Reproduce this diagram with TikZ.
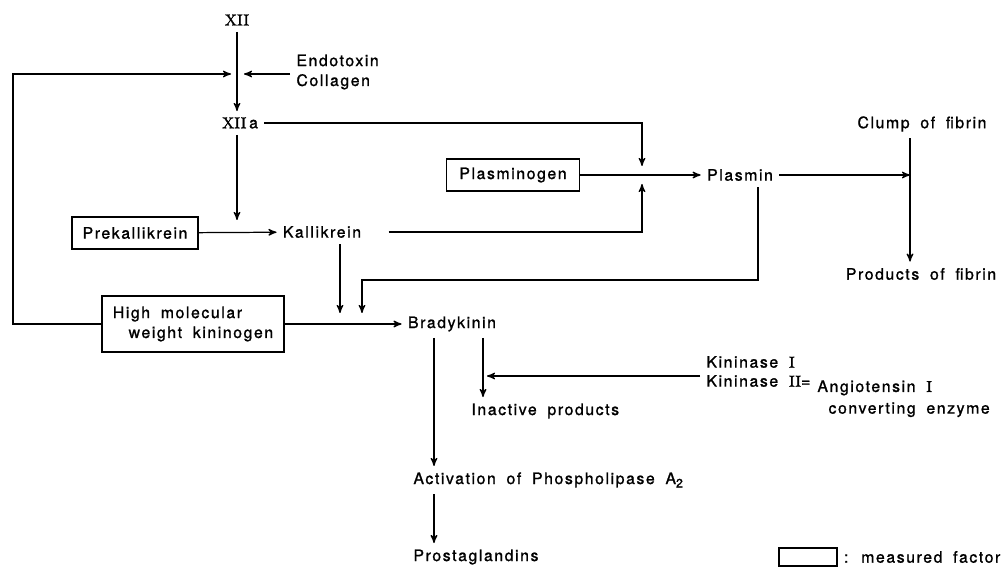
\documentclass[tikz,border=0pt]{standalone}
\usepackage{fontspec}
\setmainfont{TeX Gyre Heros}[LetterSpace=10,WordSpace=1.8,FakeBold=1.2]
\newfontfamily\romfont{Latin Modern Roman}[FakeBold=1.5]
\usetikzlibrary{arrows,positioning,calc}

\begin{document}
\begin{tikzpicture}
  [
  x=0.02cm, y=-0.02cm,
  font=\fontsize{9}{11.3}\selectfont, draw=black, >=stealth', line width=0.7pt,
  factor/.style={rectangle, draw=black, minimum height=6.4mm, inner sep=2pt}
  ]
\useasboundingbox (0,0) rectangle (1007,567);

% factor XII and its activation
\node (xii) at (237,20) {\romfont XII};
\node (xiia) at (240,123) {{\romfont XII}\,a};
\node[anchor=west,align=left] (endo) at (290,72) {Endotoxin\\Collagen};
\coordinate (fb) at (13,74);
\coordinate (jw) at (231,74);
\coordinate (je) at (244,74);
\coordinate (kj) at (237,220);

% kallikrein and plasmin
\node[factor, minimum width=25.2mm] (pk) at (135,233) {Prekallikrein};
\node (kal) at (322,232) {Kallikrein};
\node[factor, minimum width=26.6mm] (plg) at (513,175) {Plasminogen};
\node (pls) at (740,175) {Plasmin};
\coordinate (pjn) at (642,166);
\coordinate (pjs) at (642,184);

\node (clump) at (922,124) {Clump of fibrin};
\node (prod) at (921,274) {Products of fibrin};
\coordinate (fj) at (910,175);

% kinin system
\node[factor, minimum width=36.4mm, minimum height=11.2mm, align=left] (hmwk) at (193,324) {High molecular\\\hspace*{9pt}weight kininogen};
\node (brad) at (452,324) {Bradykinin};
\coordinate (kx) at (340,313);
\coordinate (px) at (362,313);
\coordinate (pc) at (758,280);

\node[anchor=west] (inact) at (465,411) {Inactive products};
\node[anchor=west] (act) at (407,480) {Activation of Phospholipase A\raisebox{-2pt}{\fontsize{7}{8}\selectfont 2}};
\node[anchor=west] (pg) at (407,557) {Prostaglandins};
\coordinate (ax) at (434,340);
\coordinate (ix) at (483,340);
\coordinate (ij) at (487,376);

\node[anchor=west] (kin1) at (700,362) {Kininase {\romfont I}};
\node[anchor=west] (kin2) at (700,381) {Kininase {\romfont II}=};
\node[anchor=base west, inner sep=0pt] (ang) at ([yshift=-3pt]kin2.base east) {Angiotensin {\romfont I}};
\node[anchor=north west] (conv) at ([xshift=3pt]ang.south west) {converting enzyme};

% legend
\node[factor, minimum width=11.6mm, minimum height=3.6mm] (leg) at (808,557) {};
\node[anchor=west] (legtxt) at (leg.east) {: measured factor};

\draw[->] (xii) -- (xii |- xiia.north);
\draw[->] (endo.west |- je) -- (je);
\draw[->] (hmwk.west) -- (hmwk.west -| fb) -- (fb) -- (jw);
\draw[->] (xiia.east) -| (pjn);
\draw[->] (xii |- xiia.south) -- (kj);
\draw[->] (pk) -- (kal);
\draw[->] ([xshift=12pt]kal.east) -| (pjs);
\draw[->] (plg) -- (pls);
\draw[->] (pls) -- (fj);
\draw[->] (clump.south -| fj) -- (prod.north -| fj);
\draw[->] (pls.south -| pc) -- (pc) -| (px);
\draw[->] (kal.south -| kx) -- (kx);
\draw[->] (hmwk) -- (brad);
\draw[->] (ax |- brad.south) -- (ax |- act.north);
\draw[->] (ax |- act.south) -- (ax |- pg.north);
\draw[->] (ix |- brad.south) -- (ix |- inact.north);
\draw[->] (kin1.west |- ij) -- (ij);

\end{tikzpicture}
\end{document}
